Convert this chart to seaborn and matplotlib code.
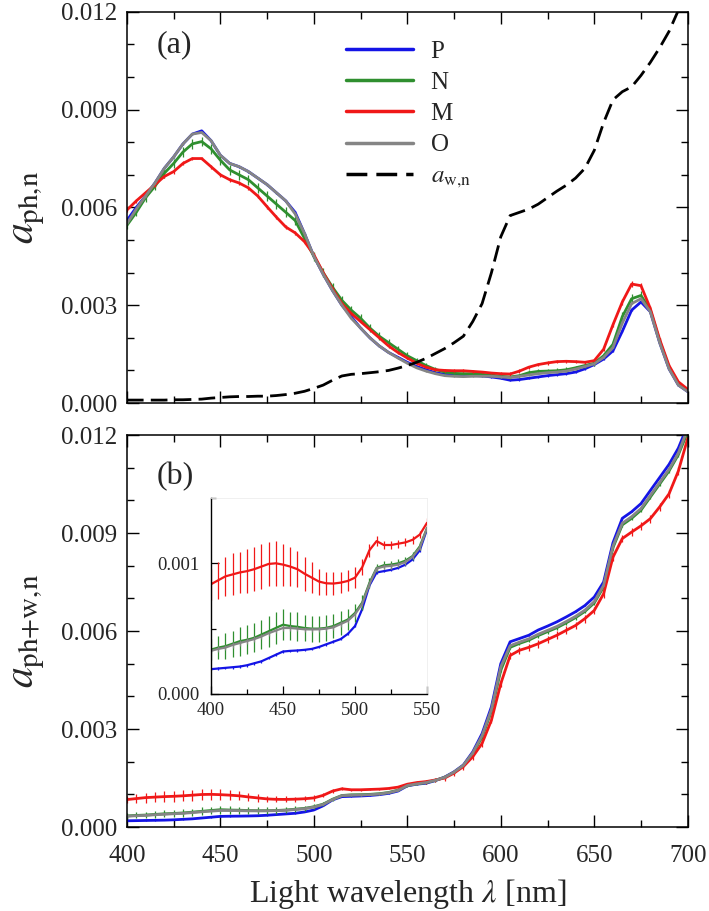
import numpy as np
import pandas as pd
import matplotlib
matplotlib.use("Agg")
import matplotlib.pyplot as plt
from matplotlib.lines import Line2D
from matplotlib.ticker import MultipleLocator, FormatStrFormatter
import seaborn as sns

# wavelength grid (nm), one value every 5 nm
wavelength = np.arange(400, 701, 5)

# ---- panel (a): normalised phytoplankton absorption, units of 1e-3 ----
a_ph_P = [5.60, 6.00, 6.35, 6.75, 7.20, 7.55, 7.95, 8.25, 8.35, 8.05,
          7.60, 7.35, 7.25, 7.10, 6.90, 6.70, 6.45, 6.20, 5.85, 5.20,
          4.50, 3.95, 3.45, 3.00, 2.65, 2.30, 2.00, 1.75, 1.55, 1.40,
          1.25, 1.12, 1.02, 0.93, 0.88, 0.86, 0.86, 0.85, 0.83, 0.80,
          0.76, 0.70, 0.72, 0.76, 0.80, 0.84, 0.87, 0.90, 0.95, 1.05,
          1.18, 1.35, 1.60, 2.20, 2.85, 3.10, 2.80, 1.85, 1.05, 0.55,
          0.35]
a_ph_N = [5.45, 5.85, 6.30, 6.65, 7.05, 7.35, 7.70, 7.95, 8.02, 7.80,
          7.45, 7.15, 7.00, 6.85, 6.60, 6.35, 6.10, 5.85, 5.60, 5.05,
          4.50, 4.00, 3.55, 3.15, 2.85, 2.60, 2.30, 2.05, 1.85, 1.65,
          1.45, 1.30, 1.15, 1.03, 0.95, 0.91, 0.90, 0.90, 0.88, 0.86,
          0.82, 0.80, 0.84, 0.93, 0.97, 0.98, 0.99, 1.02, 1.08, 1.15,
          1.22, 1.45, 1.80, 2.65, 3.20, 3.30, 2.85, 1.90, 1.10, 0.60,
          0.38]
a_ph_M = [5.92, 6.20, 6.45, 6.70, 6.95, 7.10, 7.35, 7.50, 7.50, 7.25,
          7.00, 6.85, 6.75, 6.60, 6.35, 6.02, 5.70, 5.40, 5.22, 4.95,
          4.55, 4.00, 3.50, 3.05, 2.75, 2.50, 2.25, 2.00, 1.75, 1.55,
          1.38, 1.22, 1.10, 1.02, 1.00, 0.99, 0.99, 0.97, 0.95, 0.92,
          0.90, 0.89, 0.98, 1.10, 1.18, 1.23, 1.27, 1.28, 1.27, 1.25,
          1.30, 1.65, 2.40, 3.10, 3.65, 3.60, 2.90, 1.95, 1.15, 0.65,
          0.42]
a_ph_O = [5.50, 5.95, 6.35, 6.75, 7.20, 7.55, 7.95, 8.25, 8.30, 8.05,
          7.60, 7.35, 7.25, 7.10, 6.90, 6.70, 6.45, 6.20, 5.80, 5.20,
          4.50, 3.95, 3.45, 3.00, 2.60, 2.30, 2.00, 1.75, 1.55, 1.38,
          1.22, 1.08, 0.98, 0.90, 0.84, 0.82, 0.81, 0.82, 0.82, 0.82,
          0.80, 0.78, 0.82, 0.86, 0.90, 0.93, 0.95, 0.98, 1.04, 1.12,
          1.20, 1.40, 1.70, 2.45, 3.05, 3.20, 2.80, 1.85, 1.05, 0.55,
          0.35]
a_w = [0.09, 0.09, 0.09, 0.09, 0.09, 0.10, 0.10, 0.11, 0.12, 0.15,
       0.17, 0.19, 0.20, 0.20, 0.21, 0.21, 0.23, 0.26, 0.30, 0.36,
       0.45, 0.55, 0.70, 0.83, 0.88, 0.90, 0.93, 0.96, 1.00, 1.07,
       1.15, 1.25, 1.37, 1.52, 1.67, 1.85, 2.05, 2.50, 3.05, 4.00,
       5.10, 5.75, 5.85, 5.95, 6.10, 6.30, 6.50, 6.68, 6.90, 7.20,
       7.75, 8.60, 9.30, 9.55, 9.70, 10.05, 10.45, 10.90, 11.40, 12.05,
       12.80]

err_ph_P = [0.03] * 61
err_ph_O = [0.02] * 61
err_ph_N = [0.12, 0.12, 0.13, 0.13, 0.14, 0.14, 0.15, 0.15, 0.15, 0.15,
            0.15, 0.15, 0.15, 0.15, 0.15, 0.15, 0.15, 0.15, 0.15, 0.14,
            0.14, 0.14, 0.13, 0.13, 0.13, 0.12, 0.12, 0.12, 0.11, 0.11,
            0.10, 0.09, 0.08, 0.07, 0.06, 0.06, 0.05, 0.05, 0.05, 0.05,
            0.05, 0.05, 0.06, 0.07, 0.07, 0.07, 0.07, 0.07, 0.07, 0.07,
            0.07, 0.08, 0.10, 0.14, 0.15, 0.14, 0.10, 0.08, 0.06, 0.04,
            0.03]
err_ph_M = [0.06, 0.06, 0.06, 0.06, 0.06, 0.06, 0.06, 0.06, 0.06, 0.06,
            0.06, 0.06, 0.06, 0.06, 0.06, 0.06, 0.06, 0.06, 0.06, 0.06,
            0.05, 0.05, 0.05, 0.05, 0.05, 0.05, 0.05, 0.05, 0.05, 0.05,
            0.04, 0.04, 0.04, 0.04, 0.04, 0.04, 0.04, 0.04, 0.04, 0.04,
            0.05, 0.05, 0.05, 0.05, 0.05, 0.05, 0.05, 0.05, 0.05, 0.05,
            0.05, 0.06, 0.08, 0.09, 0.10, 0.09, 0.07, 0.05, 0.04, 0.03,
            0.03]

# ---- panel (b): normalised phytoplankton + water absorption, units of 1e-3 ----
a_tot_P = [0.19, 0.195, 0.20, 0.205, 0.21, 0.22, 0.235, 0.25, 0.275, 0.30,
           0.325, 0.33, 0.333, 0.338, 0.345, 0.36, 0.38, 0.40, 0.42, 0.46,
           0.52, 0.65, 0.83, 0.93, 0.94, 0.95, 0.965, 0.99, 1.03, 1.10,
           1.26, 1.31, 1.34, 1.42, 1.53, 1.69, 1.90, 2.30, 2.86, 3.68,
           5.00, 5.67, 5.77, 5.87, 6.03, 6.15, 6.28, 6.43, 6.59, 6.78,
           7.04, 7.50, 8.70, 9.45, 9.65, 9.90, 10.30, 10.70, 11.10, 11.60,
           12.30]
a_tot_N = [0.34, 0.355, 0.366, 0.385, 0.404, 0.415, 0.43, 0.455, 0.48, 0.505,
           0.53, 0.52, 0.514, 0.505, 0.50, 0.50, 0.506, 0.52, 0.545, 0.57,
           0.62, 0.70, 0.85, 0.965, 0.985, 0.99, 1.00, 1.02, 1.056, 1.13,
           1.27, 1.32, 1.36, 1.43, 1.52, 1.67, 1.88, 2.25, 2.75, 3.55,
           4.80, 5.50, 5.62, 5.72, 5.86, 5.98, 6.10, 6.25, 6.41, 6.60,
           6.86, 7.35, 8.55, 9.25, 9.45, 9.70, 10.10, 10.50, 10.90, 11.40,
           12.10]
a_tot_M = [0.84, 0.87, 0.90, 0.915, 0.93, 0.94, 0.955, 0.975, 0.995, 1.00,
           0.99, 0.975, 0.955, 0.92, 0.89, 0.86, 0.847, 0.845, 0.852, 0.865,
           0.89, 0.97, 1.10, 1.17, 1.14, 1.14, 1.15, 1.16, 1.18, 1.22,
           1.31, 1.36, 1.39, 1.44, 1.50, 1.65, 1.85, 2.15, 2.56, 3.27,
           4.39, 5.25, 5.41, 5.50, 5.61, 5.74, 5.87, 6.02, 6.17, 6.38,
           6.63, 7.14, 8.26, 8.83, 9.03, 9.22, 9.44, 9.80, 10.20, 10.90,
           11.90]
a_tot_O = [0.33, 0.345, 0.355, 0.375, 0.39, 0.405, 0.42, 0.44, 0.465, 0.485,
           0.505, 0.505, 0.50, 0.495, 0.494, 0.495, 0.50, 0.51, 0.535, 0.56,
           0.61, 0.69, 0.84, 0.96, 0.975, 0.98, 0.99, 1.01, 1.05, 1.12,
           1.27, 1.32, 1.36, 1.43, 1.52, 1.68, 1.89, 2.27, 2.80, 3.60,
           4.90, 5.55, 5.66, 5.76, 5.90, 6.02, 6.14, 6.29, 6.45, 6.64,
           6.90, 7.40, 8.60, 9.30, 9.50, 9.75, 10.15, 10.55, 10.95, 11.45,
           12.20]

err_tot_P = [0.01] * 61
err_tot_O = [0.02] * 61
err_tot_N = [0.08, 0.09, 0.10, 0.10, 0.11, 0.11, 0.11, 0.11, 0.12, 0.12,
             0.12, 0.11, 0.11, 0.10, 0.10, 0.10, 0.10, 0.09, 0.09, 0.08,
             0.07, 0.06, 0.04, 0.03, 0.03, 0.03, 0.03, 0.03, 0.03, 0.03,
             0.04, 0.04, 0.05, 0.05, 0.06, 0.06, 0.06, 0.06, 0.06, 0.06,
             0.06, 0.06, 0.06, 0.06, 0.06, 0.06, 0.06, 0.06, 0.06, 0.06,
             0.06, 0.06, 0.06, 0.06, 0.06, 0.06, 0.06, 0.06, 0.06, 0.06,
             0.06]
err_tot_M = [0.12, 0.14, 0.15, 0.16, 0.16, 0.17, 0.17, 0.17, 0.17, 0.17,
             0.16, 0.15, 0.14, 0.13, 0.12, 0.10, 0.09, 0.09, 0.08, 0.08,
             0.08, 0.06, 0.05, 0.04, 0.03, 0.03, 0.03, 0.03, 0.03, 0.03,
             0.04, 0.05, 0.06, 0.07, 0.08, 0.09, 0.10, 0.10, 0.10, 0.10,
             0.10, 0.11, 0.11, 0.11, 0.12, 0.12, 0.12, 0.12, 0.12, 0.12,
             0.12, 0.12, 0.12, 0.12, 0.12, 0.12, 0.12, 0.12, 0.12, 0.12,
             0.12]

samples = ["P", "N", "M", "O"]
colors = {"P": "#1414e6", "N": "#2f8f2f", "M": "#f01818", "O": "#858585"}

ph_values = {"P": a_ph_P, "N": a_ph_N, "M": a_ph_M, "O": a_ph_O}
ph_errors = {"P": err_ph_P, "N": err_ph_N, "M": err_ph_M, "O": err_ph_O}
tot_values = {"P": a_tot_P, "N": a_tot_N, "M": a_tot_M, "O": a_tot_O}
tot_errors = {"P": err_tot_P, "N": err_tot_N, "M": err_tot_M, "O": err_tot_O}


def long_table(values, errors):
    rows = []
    for s in samples:
        for lam, v, e in zip(wavelength, values[s], errors[s]):
            rows.append({"wavelength": lam, "sample": s,
                         "value": v * 1e-3, "err": e * 1e-3})
    return pd.DataFrame(rows)


df_ph = long_table(ph_values, ph_errors)
df_tot = long_table(tot_values, tot_errors)
df_w = pd.DataFrame({"wavelength": wavelength, "value": np.array(a_w) * 1e-3})

sns.set_theme(style="ticks")
plt.rcParams["font.family"] = ["Liberation Serif", "DejaVu Serif"]
plt.rcParams["mathtext.fontset"] = "stix"


def draw_series(ax, df, lw, elw):
    for s in samples:
        sub = df[df["sample"] == s]
        ax.errorbar(sub["wavelength"], sub["value"], yerr=sub["err"], fmt="none",
                    ecolor=colors[s], elinewidth=elw, capsize=0)
        sns.lineplot(data=sub, x="wavelength", y="value", color=colors[s],
                     linewidth=lw, ax=ax, legend=False)


def style_main(ax):
    ax.set_xlim(400, 700)
    ax.set_ylim(0, 0.012)
    ax.xaxis.set_major_locator(MultipleLocator(50))
    ax.xaxis.set_minor_locator(MultipleLocator(25))
    ax.yaxis.set_major_locator(MultipleLocator(0.003))
    ax.yaxis.set_minor_locator(MultipleLocator(0.001))
    ax.yaxis.set_major_formatter(FormatStrFormatter("%.3f"))
    ax.tick_params(which="both", direction="in", top=True, right=True,
                   width=1.0, color="black", labelsize=18)
    ax.tick_params(which="major", length=8.5)
    ax.tick_params(which="minor", length=5)
    ax.tick_params(axis="y", pad=7)
    ax.tick_params(axis="x", pad=13)
    for sp in ax.spines.values():
        sp.set_linewidth(1.1)
        sp.set_color("black")
    ax.set_xlabel("")


fig = plt.figure(figsize=(7.09, 9.11), dpi=100)
ax1 = fig.add_axes([0.179, 0.5576, 0.791, 0.4294])
ax2 = fig.add_axes([0.179, 0.0922, 0.791, 0.4303])

# panel (a)
draw_series(ax1, df_ph, 2.0, 0.9)
sns.lineplot(data=df_w, x="wavelength", y="value", color="black",
             linewidth=2.0, dashes=False, ax=ax1)
ax1.lines[-1].set_dashes((6, 2.6))
style_main(ax1)
ax1.tick_params(axis="x", labelbottom=False)
ax1.set_ylabel(r"$a_{\mathrm{ph{,}n}}$", fontsize=30, labelpad=10)
ax1.text(0.053, 0.916, "(a)", transform=ax1.transAxes, fontsize=23, va="center")

handles = [Line2D([], [], color=colors[s], lw=2.5) for s in samples]
handles.append(Line2D([], [], color="black", lw=2.5, dashes=(6, 2.6)))
labels = samples + [r"$a_{\mathrm{w{,}n}}$"]
ax1.legend(handles, labels, loc="upper left", bbox_to_anchor=(0.35, 0.985),
           frameon=False, fontsize=18, handlelength=2.7, handletextpad=0.7,
           labelspacing=0.35)

# panel (b)
draw_series(ax2, df_tot, 2.0, 0.9)
style_main(ax2)
ax2.set_ylabel(r"$a_{\mathrm{ph{+}w{,}n}}$", fontsize=30, labelpad=10)
ax2.set_xlabel(r"Light wavelength $\lambda$ [nm]", fontsize=23, labelpad=7)
ax2.text(0.053, 0.895, "(b)", transform=ax2.transAxes, fontsize=23, va="center")

# inset of panel (b)
axin = fig.add_axes([0.2976, 0.2382, 0.3047, 0.2152])
draw_series(axin, df_tot[df_tot["wavelength"] <= 550], 1.6, 0.9)
axin.set_xlim(400, 550)
axin.set_ylim(0, 0.0015)
axin.xaxis.set_major_locator(MultipleLocator(50))
axin.xaxis.set_minor_locator(MultipleLocator(25))
axin.yaxis.set_major_locator(MultipleLocator(0.001))
axin.yaxis.set_minor_locator(MultipleLocator(0.0005))
axin.yaxis.set_major_formatter(FormatStrFormatter("%.3f"))
axin.tick_params(which="both", direction="in", width=0.9, color="black",
                 labelsize=13.5)
axin.tick_params(which="major", length=6)
axin.tick_params(which="minor", length=3.5)
axin.tick_params(axis="y", pad=8)
axin.tick_params(axis="x", pad=6)
for side in ["left", "bottom"]:
    axin.spines[side].set_linewidth(1.0)
    axin.spines[side].set_color("black")
for side in ["top", "right"]:
    axin.spines[side].set_linewidth(0.6)
    axin.spines[side].set_color("#eeeeee")
axin.set_xlabel("")
axin.set_ylabel("")

fig.savefig("out.png", dpi=100)
